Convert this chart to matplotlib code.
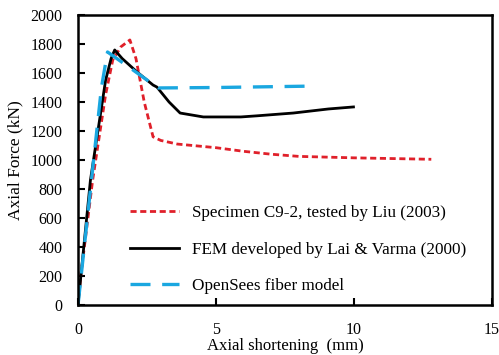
import numpy as np
import matplotlib
matplotlib.use("Agg")
import matplotlib.pyplot as plt

plt.rcParams['font.family'] = ['Liberation Serif', 'DejaVu Serif']

# Specimen C9-2, tested by Liu (2003)
exp_x = [0, 0.1, 0.53, 1.0, 1.26, 1.55, 1.88, 2.1, 2.4, 2.72, 3.0, 3.6, 5.0, 6.0, 7.0, 8.0, 10.0, 12.8]
exp_y = [0, 200, 860, 1450, 1690, 1780, 1828, 1700, 1400, 1160, 1135, 1110, 1085, 1060, 1040, 1025, 1015, 1005]

# FEM developed by Lai & Varma (2000)
fem_x = [0, 0.45, 1.0, 1.2, 1.33, 1.6, 2.14, 2.72, 2.86, 3.3, 3.7, 4.54, 5.9, 6.5, 7.8, 9.07, 9.98]
fem_y = [0, 860, 1550, 1700, 1759, 1700, 1607, 1517, 1503, 1400, 1324, 1297, 1297, 1305, 1324, 1352, 1366]

# OpenSees fiber model
ops_x = [0, 0.85, 1.07, 2.0, 2.9, 5.0, 8.56]
ops_y = [0, 1500, 1745, 1620, 1497, 1500, 1510]

fig = plt.figure(figsize=(4.99, 3.55), dpi=100)
ax = fig.add_axes([0.1563, 0.1408, 0.8297, 0.8169])

ax.plot(exp_x, exp_y, color='#e0202a', lw=2.0, dashes=(2.2, 1.3), label='Specimen C9-2, tested by Liu (2003)')
ax.plot(fem_x, fem_y, color='black', lw=2.0, label='FEM developed by Lai & Varma (2000)')
ax.plot(ops_x, ops_y, color='#1aa7e0', lw=2.4, dashes=(6, 3.5), label='OpenSees fiber model')

ax.set_xlim(0, 15)
ax.set_ylim(0, 2000)
ax.set_xticks([0, 5, 10, 15])
ax.set_yticks(np.arange(0, 2001, 200))
ax.tick_params(direction='in', length=5, width=1.5, labelsize=11.5)
ax.tick_params(axis='y', pad=11)
ax.tick_params(axis='x', pad=12)
for s in ax.spines.values():
    s.set_linewidth(1.8)

ax.set_xlabel('Axial shortening  (mm)', fontsize=12, labelpad=0)
ax.set_ylabel('Axial Force (kN)', fontsize=12.5, labelpad=5)

leg = ax.legend(loc='center left', bbox_to_anchor=(0.125, 0.19), frameon=False, fontsize=12.3,
                handlelength=2.9, labelspacing=1.2, handletextpad=0.75,
                borderpad=0, borderaxespad=0)

fig.savefig('out.png', dpi=100)
